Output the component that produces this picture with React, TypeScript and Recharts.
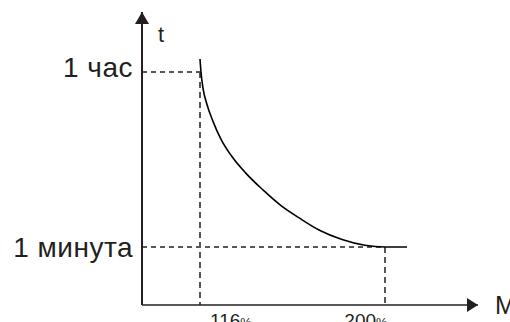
import React from "react";
import { LineChart, Line, XAxis, YAxis, ReferenceLine, ReferenceDot } from "recharts";

// Overload curve: load (% of rated current) vs. trip time (minutes)
const loadPct = [116, 116.45, 117.36, 119.18, 121.9, 125.5, 130.5, 136.9, 144.6, 152.8, 161.4, 170.5, 180.5, 190.9, 200, 210];
const timeMin = [81.3, 60, 41.1, 28.1, 18.9, 12.5, 8.3, 5.6, 3.8, 2.63, 1.95, 1.47, 1.19, 1.04, 1.0, 1.0];

const xTicks = [116, 200];
const xTickLabels = ["116", "200"];
const yTicks = [1, 60];
const yTickLabels = ["1 минута", "1 час"];
const xAxisName = "M";
const yAxisName = "t";

const X_DOMAIN: [number, number] = [89.67, 242.23];
const Y_DOMAIN: [number, number] = [0.2574, 244.2];

const data = loadPct.map((x, i) => ({ x, t: timeMin[i] }));

const FONT = "'Liberation Sans', Arial, sans-serif";
const INK = "#231f20";

const XTick = (props: any) => {
  const { x, y, payload } = props;
  const idx = xTicks.indexOf(payload.value);
  const dx = idx === 0 ? 31 : -19;
  return (
    <text x={x + dx} y={y + 22} textAnchor="middle" fontFamily={FONT} fontSize={19} fill={INK}>
      <tspan>{xTickLabels[idx]}</tspan>
      <tspan fontSize={13}>%</tspan>
    </text>
  );
};

const YTick = (props: any) => {
  const { x, y, payload } = props;
  const idx = yTicks.indexOf(payload.value);
  const dy = idx === 1 ? 5 : 10;
  return (
    <text
      x={x - 9}
      y={y + dy}
      textAnchor="end"
      fontFamily={FONT}
      fontSize={28}
      letterSpacing={0.5}
      fill={INK}
    >
      {yTickLabels[idx]}
    </text>
  );
};

const renderXArrow = (props: any) => {
  const { cx, cy } = props;
  return (
    <g>
      <path d={`M${cx},${cy} L${cx - 11},${cy - 7} L${cx - 11},${cy + 7} Z`} fill={INK} stroke="none" />
      <text x={cx + 17} y={cy + 9} fontFamily={FONT} fontSize={25} fill={INK}>
        {xAxisName}
      </text>
    </g>
  );
};

const renderYArrow = (props: any) => {
  const { cx, cy } = props;
  return (
    <g>
      <path d={`M${cx},${cy} L${cx - 7},${cy + 12} L${cx + 7},${cy + 12} Z`} fill={INK} stroke="none" />
      <text x={cx + 16} y={cy + 30} fontFamily={FONT} fontSize={22} fill={INK}>
        {yAxisName}
      </text>
    </g>
  );
};

export default function App() {
  return (
    <div style={{ position: "absolute", left: 0, top: 0, background: "#fff" }}>
      <LineChart
        width={510}
        height={322}
        data={data}
        margin={{ top: 12, right: 32, bottom: 0, left: 82 }}
      >
        <XAxis
          dataKey="x"
          type="number"
          domain={X_DOMAIN}
          allowDataOverflow
          ticks={xTicks}
          tick={<XTick />}
          tickLine={false}
          tickSize={0}
          tickMargin={0}
          height={17}
          axisLine={{ stroke: INK, strokeWidth: 1.5 }}
        />
        <YAxis
          type="number"
          scale="log"
          domain={Y_DOMAIN}
          allowDataOverflow
          ticks={yTicks}
          tick={<YTick />}
          tickLine={false}
          tickSize={0}
          tickMargin={0}
          width={60}
          axisLine={{ stroke: INK, strokeWidth: 2 }}
        />
        <ReferenceLine
          segment={[{ x: X_DOMAIN[0], y: 60 }, { x: 116, y: 60 }]}
          stroke={INK}
          strokeWidth={1.5}
          strokeDasharray="5 4"
          ifOverflow="visible"
        />
        <ReferenceLine
          segment={[{ x: X_DOMAIN[0], y: 1 }, { x: 200, y: 1 }]}
          stroke={INK}
          strokeWidth={1.5}
          strokeDasharray="5 4"
          ifOverflow="visible"
        />
        <ReferenceLine
          segment={[{ x: 116, y: 60 }, { x: 116, y: Y_DOMAIN[0] }]}
          stroke="#555"
          strokeWidth={2}
          strokeDasharray="6 4"
          ifOverflow="visible"
        />
        <ReferenceLine
          segment={[{ x: 200, y: 1 }, { x: 200, y: Y_DOMAIN[0] }]}
          stroke="#555"
          strokeWidth={2}
          strokeDasharray="6 4"
          ifOverflow="visible"
        />
        <Line
          dataKey="t"
          type="monotone"
          stroke="#000"
          strokeWidth={1.6}
          dot={false}
          isAnimationActive={false}
        />
        <ReferenceDot x={X_DOMAIN[1]} y={Y_DOMAIN[0]} r={7} ifOverflow="visible" shape={renderXArrow} />
        <ReferenceDot x={X_DOMAIN[0]} y={Y_DOMAIN[1]} r={7} ifOverflow="visible" shape={renderYArrow} />
      </LineChart>
    </div>
  );
}
